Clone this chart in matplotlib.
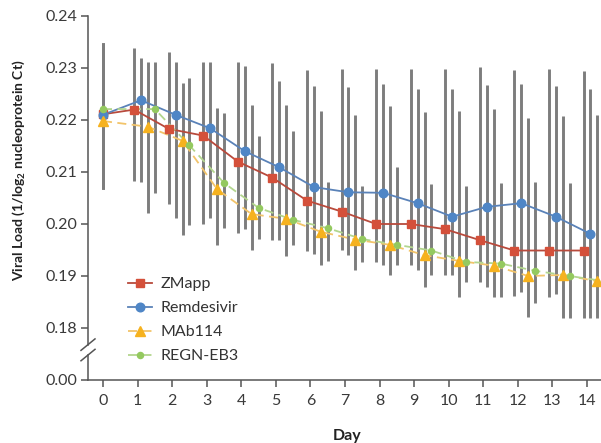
import matplotlib
matplotlib.use("Agg")
import matplotlib.pyplot as plt
import numpy as np

plt.rcParams["font.family"] = ["Lato", "DejaVu Sans"]
plt.rcParams["mathtext.fontset"] = "custom"
plt.rcParams["mathtext.rm"] = "Lato"
plt.rcParams["mathtext.bf"] = "Lato:bold"

# ---- data -------------------------------------------------------------
days = list(range(15))
series_names = ["ZMapp", "Remdesivir", "MAb114", "REGN-EB3"]

zmapp_mean = [0.2211, 0.2220, 0.2183, 0.2170, 0.2120, 0.2089, 0.2045, 0.2024,
              0.2000, 0.2000, 0.1990, 0.1969, 0.1949, 0.1949, 0.1949]
zmapp_upper = [0.2348, 0.2339, 0.2330, 0.2311, 0.2311, 0.2309, 0.2297, 0.2299,
               0.2299, 0.2299, 0.2299, 0.2301, 0.2297, 0.2299, 0.2295]
zmapp_lower = [0.2067, 0.2083, 0.2038, 0.2000, 0.1982, 0.1969, 0.1948, 0.1950,
               0.1927, 0.1921, 0.1902, 0.1889, 0.1862, 0.1860, 0.1820]

remdesivir_mean = [0.2210, 0.2238, 0.2210, 0.2184, 0.2140, 0.2109, 0.2071, 0.2061,
                   0.2060, 0.2040, 0.2014, 0.2033, 0.2040, 0.2014, 0.1981]
remdesivir_upper = [0.2348, 0.2320, 0.2311, 0.2311, 0.2304, 0.2275, 0.2266, 0.2264,
                    0.2269, 0.2259, 0.2259, 0.2267, 0.2269, 0.2266, 0.2259]
remdesivir_lower = [0.2067, 0.2081, 0.2012, 0.2012, 0.1991, 0.1969, 0.1942, 0.1940,
                    0.1921, 0.1911, 0.1902, 0.1879, 0.1870, 0.1866, 0.1820]

mab114_mean = [0.2198, 0.2187, 0.2160, 0.2067, 0.2019, 0.2010, 0.1985, 0.1970,
               0.1960, 0.1940, 0.1929, 0.1920, 0.1900, 0.1902, 0.1890]
mab114_upper = [0.2348, 0.2311, 0.2271, 0.2223, 0.2228, 0.2228, 0.2217, 0.2210,
                0.2227, 0.2215, 0.2217, 0.2221, 0.2204, 0.2208, 0.2210]
mab114_lower = [0.2067, 0.2021, 0.1979, 0.1960, 0.1950, 0.1939, 0.1921, 0.1912,
                0.1901, 0.1879, 0.1860, 0.1859, 0.1822, 0.1820, 0.1820]

regn_mean = [0.2221, 0.2221, 0.2151, 0.2079, 0.2031, 0.2008, 0.1992, 0.1971,
             0.1960, 0.1949, 0.1927, 0.1924, 0.1910, 0.1900, 0.1890]
regn_upper = [0.2348, 0.2311, 0.2280, 0.2214, 0.2169, 0.2179, 0.2080, 0.2074,
              0.2110, 0.2077, 0.2074, 0.2079, 0.2080, 0.2078, 0.2080]
regn_lower = [0.2067, 0.2060, 0.1998, 0.1992, 0.1971, 0.1960, 0.1929, 0.1927,
              0.1921, 0.1902, 0.1889, 0.1859, 0.1849, 0.1820, 0.1820]

y_tick_values = [0.17, 0.18, 0.19, 0.20, 0.21, 0.22, 0.23, 0.24]
y_tick_labels = ["0.00", "0.18", "0.19", "0.20", "0.21", "0.22", "0.23", "0.24"]

# ---- styling ----------------------------------------------------------
styles = {
    "ZMapp": dict(color="#d4503a", line="#b84a3c", ls="-", marker="s", ms=6.0, offset=-0.10),
    "Remdesivir": dict(color="#4f86c6", line="#5a82b8", ls="-", marker="o", ms=6.2, offset=0.10),
    "MAb114": dict(color="#f6b21f", line="#f2c46a", ls=(0, (5, 3)), marker="^", ms=6.8, offset=0.30),
    "REGN-EB3": dict(color="#94c95f", line="#b3d68e", ls=(0, (5, 3)), marker="o", ms=4.4, offset=0.50),
}
series = {
    "ZMapp": (zmapp_mean, zmapp_lower, zmapp_upper),
    "Remdesivir": (remdesivir_mean, remdesivir_lower, remdesivir_upper),
    "MAb114": (mab114_mean, mab114_lower, mab114_upper),
    "REGN-EB3": (regn_mean, regn_lower, regn_upper),
}

W, H = 601, 443
fig = plt.figure(figsize=(W / 100, H / 100), dpi=100)
ax_left, ax_right, ax_top, ax_bottom = 88, 601, 16, 380
ax = fig.add_axes([ax_left / W, (H - ax_bottom) / H,
                   (ax_right - ax_left) / W, (ax_bottom - ax_top) / H])

handles = []
for name in series_names:
    mean, lo, hi = (np.array(a) for a in series[name])
    st = styles[name]
    x = np.array(days, dtype=float) + np.where(np.array(days) == 0, 0.0, st["offset"])
    ax.vlines(x, lo, hi, color="#7d7d7d", lw=2.1, zorder=1)
    ax.plot(x, mean, color=st["line"], ls=st["ls"], lw=1.3, zorder=2)
    ax.plot(x, mean, ls="none", marker=st["marker"], ms=st["ms"],
            mfc=st["color"], mec=st["color"], zorder=3)
    h, = ax.plot([], [], color=st["line"], ls=st["ls"], lw=1.3,
                 marker=st["marker"], ms=st["ms"], mfc=st["color"], mec=st["color"])
    handles.append(h)

ax.set_xlim(-0.434, 14.405)
ax.set_ylim(0.17, 0.24)
ax.set_xticks(days)
ax.set_yticks(y_tick_values)
ax.set_yticklabels(y_tick_labels)
ax.tick_params(axis="both", colors="#555555", labelcolor="#3a3a3a",
               labelsize=11.5, length=5, width=1.1, direction="out")
ax.tick_params(axis="x", pad=5)
ax.tick_params(axis="y", pad=3)

for side in ("top", "right"):
    ax.spines[side].set_visible(False)
ax.spines["bottom"].set_color("#555555")
ax.spines["bottom"].set_linewidth(1.1)
ax.spines["left"].set_visible(False)

# Broken left axis: two spine segments with a // mark in between
brk = 0.1758
gap = 0.0010
ax.plot([-0.434, -0.434], [0.17, brk - gap], color="#555555", lw=1.1,
        clip_on=False, zorder=4)
ax.plot([-0.434, -0.434], [brk + gap, 0.24], color="#555555", lw=1.1,
        clip_on=False, zorder=4)
xpx = 1 / 34.57   # one pixel in days
for dy in (-gap, gap):
    ax.plot([-0.434 - 7 * xpx, -0.434 + 7 * xpx],
            [brk + dy - 0.0011, brk + dy + 0.0011],
            color="#555555", lw=1.1, clip_on=False, zorder=4)

fig.text(19 / W, 1 - 170 / H, r"Viral Load (1/log$_\mathbf{2}$ nucleoprotein Ct)",
         rotation=90, ha="center", va="center",
         fontsize=10, fontweight="bold", color="#222222")
fig.text(347 / W, 1 - 436 / H, "Day", ha="center", va="center",
         fontsize=11.5, fontweight="bold", color="#222222")

leg = ax.legend(handles, series_names, loc="upper left",
                bbox_to_anchor=(128 / W, 1 - 277 / H), bbox_transform=fig.transFigure,
                frameon=False, fontsize=11.5, labelspacing=0.62, handlelength=1.5,
                handletextpad=0.55, borderaxespad=0, borderpad=0)
for t in leg.get_texts():
    t.set_color("#333333")

fig.savefig("out.png", dpi=100)
